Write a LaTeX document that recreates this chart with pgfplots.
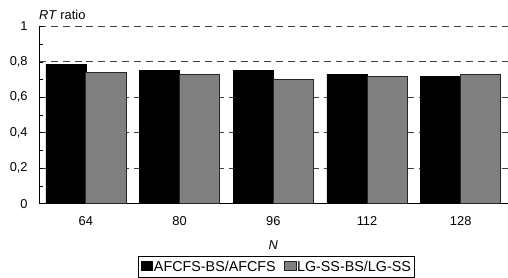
\documentclass[border=0pt]{standalone}
\usepackage{fontspec}
\setmainfont{Liberation Sans}
\usepackage{pgfplots}
\pgfplotsset{compat=1.18}
\definecolor{bargray}{HTML}{808080}
\definecolor{gridgray}{HTML}{404040}
\begin{document}
\fontsize{13}{15}\selectfont
\begin{tikzpicture}
\begin{axis}[
  scale only axis, width=474pt, height=179.3pt,
  xmin=-0.5, xmax=4.5, ymin=0, ymax=1,
  axis lines=left, axis line style={-, black, line width=0.8pt},
  ybar=0pt, bar width=40.5pt,
  xtick={0,1,2,3,4}, xticklabels={64,80,96,112,128},
  x tick style={draw=none},
  ytick={0,0.2,0.4,0.6,0.8,1}, minor ytick={0.1,0.3,0.5,0.7,0.9},
  yticklabels={0,{0,2},{0,4},{0,6},{0,8},1},
  tick align=inside, major tick length=4pt, minor tick length=4pt,
  y tick style={black, line width=0.6pt},
  ymajorgrids, grid style={dash pattern=on 7pt off 5pt, gridgray, line width=0.9pt},
  yticklabel style={xshift=-7pt, font=\fontsize{13}{15}\selectfont},
  xticklabel style={yshift=-9pt, font=\fontsize{13}{15}\selectfont},
  xlabel={\textit{N}}, xlabel style={yshift=-6pt, font=\fontsize{13}{15}\selectfont},
  legend style={at={(0.5,0)}, anchor=north, yshift=-53.5pt, xshift=3pt, draw=black, line width=0.7pt,
    legend columns=2, /tikz/every even column/.append style={column sep=7pt},
    inner xsep=2pt, inner ysep=2pt, font=\fontsize{14.5}{16}\selectfont,
    nodes={inner xsep=1pt}},
  legend image code/.code={\draw[#1, line width=0.5pt] (-1pt,-3pt) rectangle (11pt,6pt);},
  clip=false,
]
\addplot[fill=black, draw=black, line width=0.5pt] coordinates {(0,0.786) (1,0.751) (2,0.753) (3,0.731) (4,0.719)};
\addplot[fill=bargray, draw=black!85, line width=0.8pt] coordinates {(0,0.740) (1,0.731) (2,0.703) (3,0.719) (4,0.731)};
\legend{AFCFS-BS/AFCFS, LG-SS-BS/LG-SS}
\node[anchor=base west, inner sep=0pt] at (rel axis cs:0,1) [yshift=7pt] {\textit{RT} ratio};
\coordinate (bl) at (rel axis cs:0,0);
\coordinate (tr) at (rel axis cs:1,1);
\end{axis}
\path[use as bounding box] ([shift={(-39.5pt,-74pt)}]bl) rectangle ([shift={(-5.5pt,26.7pt)}]tr);
\end{tikzpicture}
\end{document}
